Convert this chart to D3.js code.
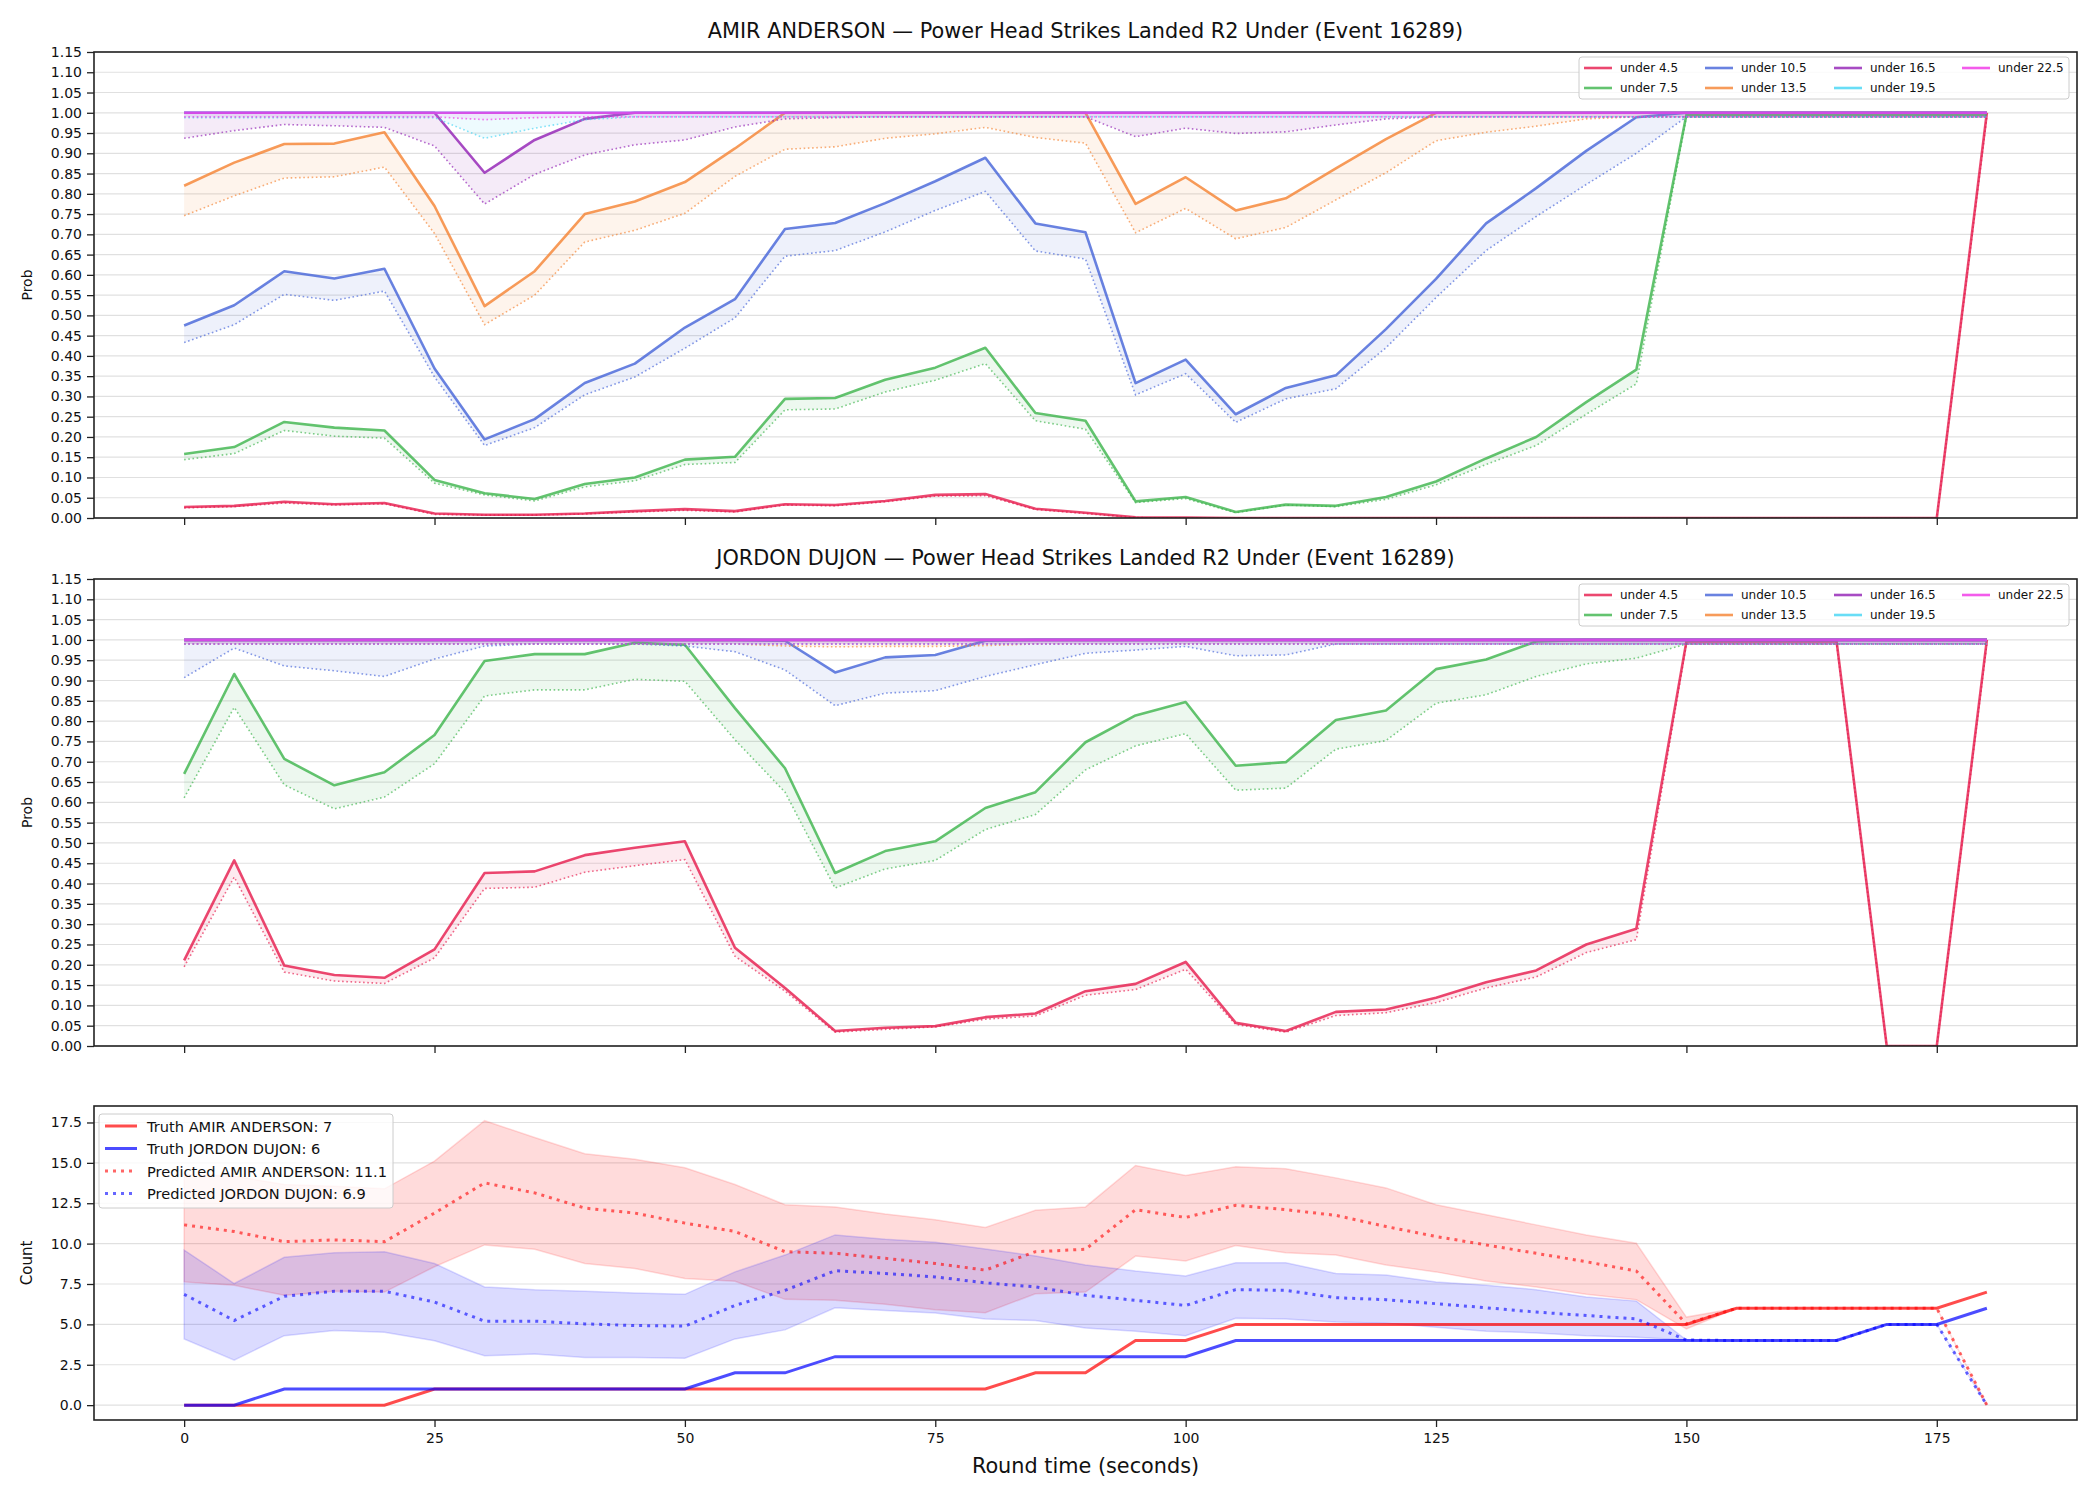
<!DOCTYPE html>
<html>
<head>
<meta charset="utf-8">
<script src="https://d3js.org/d3.v7.min.js"></script>
<style>
  body { margin: 0; background: #fff; }
  svg text { font-family: "DejaVu Sans", sans-serif; fill: #111; }
</style>
</head>
<body>
<div id="chart"></div>
<script>
// round time in seconds
var times = [0,5,10,15,20,25,30,35,40,45,50,55,60,65,70,75,80,85,90,95,100,105,110,115,120,125,130,135,140,145,150,155,160,165,170,175,180];
var timeTicks = [0,25,50,75,100,125,150,175];
var probTicks = [0,0.05,0.1,0.15,0.2,0.25,0.3,0.35,0.4,0.45,0.5,0.55,0.6,0.65,0.7,0.75,0.8,0.85,0.9,0.95,1,1.05,1.1,1.15];
var countTicks = [0,2.5,5,7.5,10,12.5,15,17.5];

var thresholds = ["under 4.5","under 7.5","under 10.5","under 13.5","under 16.5","under 19.5","under 22.5"];
var thresholdColors = ["#e6194b","#3cb44b","#4363d8","#f58231","#911eb4","#42d4f4","#f032e6"];

// AMIR ANDERSON - solid and dotted probability per threshold
var amirU45    = [0.027,0.030,0.040,0.034,0.037,0.011,0.008,0.008,0.011,0.017,0.022,0.017,0.034,0.032,0.042,0.057,0.059,0.023,0.013,0.002,0.001,0,0,0,0,0,0,0,0,0,0,0,0,0,0,0,1.0];
var amirU45Dot = [0.025,0.028,0.037,0.032,0.035,0.009,0.007,0.007,0.010,0.015,0.019,0.015,0.032,0.030,0.040,0.054,0.055,0.021,0.011,0.001,0,0,0,0,0,0,0,0,0,0,0,0,0,0,0,0,0.99];
var amirU75    = [0.158,0.175,0.237,0.223,0.216,0.094,0.061,0.047,0.084,0.100,0.144,0.151,0.294,0.296,0.341,0.371,0.420,0.259,0.240,0.041,0.052,0.015,0.033,0.030,0.052,0.090,0.147,0.200,0.286,0.366,0.995,0.995,0.995,0.995,0.995,0.995,0.995];
var amirU75Dot = [0.144,0.159,0.216,0.202,0.197,0.086,0.057,0.042,0.077,0.092,0.132,0.137,0.267,0.269,0.311,0.340,0.381,0.240,0.219,0.038,0.048,0.013,0.032,0.028,0.046,0.082,0.132,0.179,0.256,0.331,0.99,0.99,0.99,0.99,0.99,0.99,0.99];
var amirU105    = [0.475,0.525,0.609,0.591,0.615,0.369,0.194,0.244,0.333,0.381,0.470,0.540,0.713,0.728,0.777,0.831,0.889,0.727,0.705,0.333,0.391,0.256,0.321,0.352,0.466,0.590,0.727,0.814,0.906,0.989,1,1,1,1,1,1,1];
var amirU105Dot = [0.433,0.477,0.552,0.537,0.560,0.348,0.179,0.223,0.304,0.348,0.419,0.494,0.646,0.660,0.706,0.759,0.806,0.659,0.639,0.304,0.356,0.236,0.294,0.319,0.420,0.544,0.660,0.744,0.823,0.900,0.99,0.99,0.99,0.99,0.99,0.99,0.99];
var amirU135    = [0.820,0.877,0.923,0.924,0.952,0.770,0.523,0.609,0.750,0.781,0.829,0.912,1,1,1,1,1,1,1,0.775,0.841,0.759,0.789,0.863,0.935,1,1,1,1,1,1,1,1,1,1,1,1];
var amirU135Dot = [0.746,0.795,0.839,0.842,0.866,0.702,0.477,0.550,0.681,0.710,0.752,0.843,0.910,0.916,0.937,0.948,0.964,0.939,0.925,0.704,0.764,0.689,0.717,0.785,0.852,0.931,0.952,0.967,0.985,0.99,0.99,0.99,0.99,0.99,0.99,0.99,0.99];
var amirU165    = [1,1,1,1,1,1,0.852,0.933,0.985,1,1,1,1,1,1,1,1,1,1,1,1,1,1,1,1,1,1,1,1,1,1,1,1,1,1,1,1];
var amirU165Dot = [0.937,0.956,0.971,0.968,0.964,0.918,0.775,0.848,0.896,0.921,0.933,0.965,0.985,0.988,0.99,0.99,0.99,0.99,0.99,0.941,0.962,0.949,0.953,0.970,0.985,0.99,0.99,0.99,0.99,0.99,0.99,0.99,0.99,0.99,0.99,0.99,0.99];
var amirU195    = [1,1,1,1,1,1,1,1,1,1,1,1,1,1,1,1,1,1,1,1,1,1,1,1,1,1,1,1,1,1,1,1,1,1,1,1,1];
var amirU195Dot = [0.988,0.988,0.988,0.988,0.988,0.988,0.937,0.962,0.983,0.99,0.99,0.99,0.99,0.99,0.99,0.99,0.99,0.99,0.99,0.99,0.99,0.99,0.99,0.99,0.99,0.99,0.99,0.99,0.99,0.99,0.99,0.99,0.99,0.99,0.99,0.99,0.99];
var amirU225    = [1,1,1,1,1,1,1,1,1,1,1,1,1,1,1,1,1,1,1,1,1,1,1,1,1,1,1,1,1,1,1,1,1,1,1,1,1];
var amirU225Dot = [0.99,0.99,0.99,0.99,0.99,0.99,0.983,0.988,0.99,0.99,0.99,0.99,0.99,0.99,0.99,0.99,0.99,0.99,0.99,0.99,0.99,0.99,0.99,0.99,0.99,0.99,0.99,0.99,0.99,0.99,0.99,0.99,0.99,0.99,0.99,0.99,0.99];

// JORDON DUJON
var jordU45    = [0.211,0.457,0.198,0.175,0.168,0.238,0.426,0.430,0.470,0.488,0.504,0.242,0.143,0.037,0.045,0.049,0.071,0.080,0.135,0.153,0.207,0.057,0.037,0.084,0.090,0.119,0.157,0.186,0.250,0.289,0.996,0.996,0.996,0.996,0,0,1.0];
var jordU45Dot = [0.195,0.416,0.182,0.160,0.154,0.217,0.388,0.391,0.428,0.444,0.459,0.221,0.135,0.034,0.041,0.047,0.066,0.074,0.125,0.139,0.189,0.053,0.034,0.075,0.082,0.107,0.143,0.170,0.230,0.262,0.99,0.99,0.99,0.99,0,0,0.99];
var jordU75    = [0.670,0.916,0.707,0.642,0.674,0.766,0.948,0.965,0.965,0.993,0.988,0.832,0.684,0.426,0.480,0.504,0.586,0.625,0.748,0.814,0.847,0.690,0.699,0.803,0.826,0.928,0.952,0.996,1,1,1,1,1,1,1,1,1];
var jordU75Dot = [0.611,0.834,0.643,0.584,0.613,0.695,0.862,0.877,0.877,0.903,0.898,0.754,0.625,0.389,0.436,0.457,0.533,0.570,0.680,0.739,0.769,0.630,0.635,0.731,0.752,0.844,0.865,0.910,0.941,0.955,0.99,0.99,0.99,0.99,0.99,0.99,0.99];
var jordU105    = [1,1,1,1,1,1,1,1,1,1,1,1,0.998,0.920,0.957,0.963,0.998,1,1,1,1,1,1,1,1,1,1,1,1,1,1,1,1,1,1,1,1];
var jordU105Dot = [0.907,0.980,0.936,0.924,0.910,0.953,0.985,0.99,0.99,0.99,0.985,0.971,0.926,0.838,0.869,0.875,0.910,0.939,0.967,0.975,0.984,0.961,0.963,0.99,0.99,0.99,0.99,0.99,0.99,0.99,0.99,0.99,0.99,0.99,0.99,0.99,0.99];
var jordU135    = [1,1,1,1,1,1,1,1,1,1,1,1,1,1,1,1,1,1,1,1,1,1,1,1,1,1,1,1,1,1,1,1,1,1,1,1,1];
var jordU135Dot = [0.99,0.99,0.99,0.99,0.99,0.99,0.99,0.99,0.99,0.99,0.99,0.99,0.985,0.983,0.984,0.984,0.986,0.99,0.99,0.99,0.99,0.99,0.99,0.99,0.99,0.99,0.99,0.99,0.99,0.99,0.99,0.99,0.99,0.99,0.99,0.99,0.99];
var jordU165    = [1,1,1,1,1,1,1,1,1,1,1,1,1,1,1,1,1,1,1,1,1,1,1,1,1,1,1,1,1,1,1,1,1,1,1,1,1];
var jordU165Dot = [0.99,0.99,0.99,0.99,0.99,0.99,0.99,0.99,0.99,0.99,0.99,0.99,0.99,0.99,0.99,0.99,0.99,0.99,0.99,0.99,0.99,0.99,0.99,0.99,0.99,0.99,0.99,0.99,0.99,0.99,0.99,0.99,0.99,0.99,0.99,0.99,0.99];
var jordU195    = jordU165.slice();
var jordU195Dot = jordU165Dot.slice();
var jordU225    = jordU165.slice();
var jordU225Dot = jordU165Dot.slice();

// bottom panel: counts
var truthAmir  = [0,0,0,0,0,1,1,1,1,1,1,1,1,1,1,1,1,2,2,4,4,5,5,5,5,5,5,5,5,5,5,6,6,6,6,6,7];
var truthJord  = [0,0,1,1,1,1,1,1,1,1,1,2,2,3,3,3,3,3,3,3,3,4,4,4,4,4,4,4,4,4,4,4,4,4,5,5,6];
var predAmir   = [11.16,10.75,10.12,10.23,10.12,11.89,13.76,13.14,12.20,11.89,11.27,10.75,9.50,9.40,9.09,8.77,8.36,9.50,9.65,12.10,11.62,12.37,12.10,11.75,11.06,10.44,9.92,9.40,8.88,8.30,5.03,6,6,6,6,6,0];
var predJord   = [6.86,5.24,6.74,7.05,7.05,6.38,5.20,5.20,5.03,4.93,4.89,6.17,7.11,8.32,8.15,7.94,7.57,7.32,6.80,6.49,6.17,7.15,7.11,6.65,6.53,6.28,6.03,5.76,5.55,5.34,4.03,4,4,4,5,5,0];
var amirHi = [14.28,14.18,13.66,13.55,13.39,15.11,17.61,16.57,15.57,15.22,14.70,13.66,12.41,12.27,11.83,11.48,11.00,12.06,12.27,14.84,14.22,14.76,14.64,14.07,13.45,12.41,11.79,11.16,10.54,10.02,5.45,6,6,6,6,6,0];
var amirLo = [7.63,7.42,6.80,7.05,7.00,8.57,9.92,9.65,8.77,8.46,7.84,7.67,6.55,6.49,6.24,5.90,5.72,6.90,7.00,9.23,8.92,9.88,9.44,9.29,8.67,8.25,7.69,7.32,6.86,6.53,4.72,6,6,6,6,6,0];
var jordHi = [9.60,7.53,9.15,9.44,9.50,8.77,7.32,7.15,7.05,6.94,6.86,8.25,9.29,10.54,10.27,10.08,9.67,9.23,8.67,8.30,8.00,8.81,8.81,8.15,8.05,7.63,7.42,7.15,6.69,6.44,4.03,4,4,4,5,5,0];
var jordLo = [4.10,2.79,4.30,4.62,4.51,3.99,3.06,3.16,2.95,2.95,2.91,4.10,4.66,6.03,5.86,5.70,5.34,5.24,4.78,4.57,4.30,5.38,5.34,5.14,5.07,4.82,4.57,4.47,4.30,4.20,4.03,4,4,4,5,5,0];

var width = 2100, height = 1500;
var left = 94, right = 2077;

var svg = d3.select("#chart").append("svg")
  .attr("width", width)
  .attr("height", height);

var x = d3.scaleLinear().domain([-9, 189]).range([left, right]);

// style a d3 axis group like matplotlib
function styleAxis(g) {
  g.select(".domain").remove();
  g.selectAll(".tick line").attr("stroke", "#222").attr("stroke-width", 1.3);
  g.selectAll(".tick text").attr("font-size", 14).attr("fill", "#111")
    .style("font-family", "DejaVu Sans, sans-serif");
}

function drawProbPanel(top, bottom, title, solids, dots) {
  var y = d3.scaleLinear().domain([0, 1.15]).range([bottom, top]);
  var g = svg.append("g");

  // horizontal grid
  g.selectAll("line.grid").data(probTicks).enter().append("line")
    .attr("x1", left).attr("x2", right)
    .attr("y1", function(d) { return y(d); })
    .attr("y2", function(d) { return y(d); })
    .attr("stroke", "#000").attr("stroke-opacity", 0.12).attr("stroke-width", 1.2);

  var clipId = "clip" + Math.round(top);
  svg.append("clipPath").attr("id", clipId).append("rect")
    .attr("x", left).attr("y", top).attr("width", right - left).attr("height", bottom - top);
  var plot = g.append("g").attr("clip-path", "url(#" + clipId + ")");

  thresholds.forEach(function(name, i) {
    var col = thresholdColors[i];
    var area = d3.area()
      .x(function(d, j) { return x(times[j]); })
      .y0(function(d, j) { return y(dots[i][j]); })
      .y1(function(d) { return y(d); });
    var line = d3.line().x(function(d, j) { return x(times[j]); }).y(function(d) { return y(d); });

    plot.append("path").datum(solids[i])
      .attr("d", area)
      .attr("fill", col).attr("fill-opacity", 0.09);
    plot.append("path").datum(solids[i])
      .attr("d", line)
      .attr("fill", "none").attr("stroke", col)
      .attr("stroke-width", 2.6).attr("stroke-opacity", 0.8)
      .attr("stroke-linejoin", "round");
    plot.append("path").datum(dots[i])
      .attr("d", line)
      .attr("fill", "none").attr("stroke", col)
      .attr("stroke-width", 1.6).attr("stroke-opacity", 0.65)
      .attr("stroke-dasharray", "1.6,2.6");
  });

  // axes
  g.append("g").attr("transform", "translate(" + left + ",0)")
    .call(d3.axisLeft(y).tickValues(probTicks).tickFormat(d3.format(".2f")).tickSize(7).tickPadding(5))
    .call(styleAxis);
  g.append("g").attr("transform", "translate(0," + bottom + ")")
    .call(d3.axisBottom(x).tickValues(timeTicks).tickFormat("").tickSize(7))
    .call(styleAxis);

  g.append("rect")
    .attr("x", left).attr("y", top).attr("width", right - left).attr("height", bottom - top)
    .attr("fill", "none").attr("stroke", "#222").attr("stroke-width", 1.6);

  g.append("text")
    .attr("x", (left + right) / 2).attr("y", top - 14)
    .attr("text-anchor", "middle").attr("font-size", 20.8)
    .text(title);

  g.append("text")
    .attr("transform", "translate(28," + ((top + bottom) / 2) + ") rotate(-90)")
    .attr("text-anchor", "middle").attr("dominant-baseline", "middle")
    .attr("font-size", 14)
    .text("Prob");

  // legend, 4 columns filled column-wise
  var lg = g.append("g").attr("transform", "translate(1579," + (top + 5) + ")");
  lg.append("rect")
    .attr("width", 490).attr("height", 42).attr("rx", 3)
    .attr("fill", "#fff").attr("fill-opacity", 0.8)
    .attr("stroke", "#ccc").attr("stroke-width", 1);
  var colX = [5, 126, 255, 383];
  thresholds.forEach(function(name, i) {
    var cx = colX[Math.floor(i / 2)];
    var cy = i % 2 === 0 ? 11 : 31;
    lg.append("line")
      .attr("x1", cx).attr("x2", cx + 28).attr("y1", cy).attr("y2", cy)
      .attr("stroke", thresholdColors[i]).attr("stroke-width", 2.6).attr("stroke-opacity", 0.8);
    lg.append("text")
      .attr("x", cx + 36).attr("y", cy)
      .attr("dominant-baseline", "central")
      .attr("font-size", 12)
      .text(name);
  });
}

drawProbPanel(52, 518, "AMIR ANDERSON \u2014 Power Head Strikes Landed R2 Under (Event 16289)",
  [amirU45, amirU75, amirU105, amirU135, amirU165, amirU195, amirU225],
  [amirU45Dot, amirU75Dot, amirU105Dot, amirU135Dot, amirU165Dot, amirU195Dot, amirU225Dot]);

drawProbPanel(579, 1046, "JORDON DUJON \u2014 Power Head Strikes Landed R2 Under (Event 16289)",
  [jordU45, jordU75, jordU105, jordU135, jordU165, jordU195, jordU225],
  [jordU45Dot, jordU75Dot, jordU105Dot, jordU135Dot, jordU165Dot, jordU195Dot, jordU225Dot]);

// ---- count panel ----
var cTop = 1106, cBottom = 1420;
var yc = d3.scaleLinear().domain([-0.92, 18.52]).range([cBottom, cTop]);
var cg = svg.append("g");

cg.selectAll("line.grid").data(countTicks).enter().append("line")
  .attr("x1", left).attr("x2", right)
  .attr("y1", function(d) { return yc(d); })
  .attr("y2", function(d) { return yc(d); })
  .attr("stroke", "#000").attr("stroke-opacity", 0.12).attr("stroke-width", 1.2);

var band = function(lo, hi) {
  return d3.area()
    .x(function(d, j) { return x(times[j]); })
    .y0(function(d, j) { return yc(lo[j]); })
    .y1(function(d, j) { return yc(hi[j]); });
};
var cline = d3.line().x(function(d, j) { return x(times[j]); }).y(function(d) { return yc(d); });

cg.append("path").datum(times).attr("d", band(amirLo, amirHi))
  .attr("fill", "red").attr("fill-opacity", 0.14)
  .attr("stroke", "red").attr("stroke-opacity", 0.14).attr("stroke-width", 1.5);
cg.append("path").datum(times).attr("d", band(jordLo, jordHi))
  .attr("fill", "blue").attr("fill-opacity", 0.14)
  .attr("stroke", "blue").attr("stroke-opacity", 0.14).attr("stroke-width", 1.5);

cg.append("path").datum(truthAmir).attr("d", cline)
  .attr("fill", "none").attr("stroke", "red").attr("stroke-opacity", 0.7).attr("stroke-width", 3);
cg.append("path").datum(truthJord).attr("d", cline)
  .attr("fill", "none").attr("stroke", "blue").attr("stroke-opacity", 0.7).attr("stroke-width", 3);
cg.append("path").datum(predAmir).attr("d", cline)
  .attr("fill", "none").attr("stroke", "red").attr("stroke-opacity", 0.6).attr("stroke-width", 3)
  .attr("stroke-dasharray", "3,5");
cg.append("path").datum(predJord).attr("d", cline)
  .attr("fill", "none").attr("stroke", "blue").attr("stroke-opacity", 0.6).attr("stroke-width", 3)
  .attr("stroke-dasharray", "3,5");

cg.append("g").attr("transform", "translate(" + left + ",0)")
  .call(d3.axisLeft(yc).tickValues(countTicks).tickFormat(d3.format(".1f")).tickSize(7).tickPadding(5))
  .call(styleAxis);
cg.append("g").attr("transform", "translate(0," + cBottom + ")")
  .call(d3.axisBottom(x).tickValues(timeTicks).tickFormat(d3.format("d")).tickSize(7).tickPadding(6))
  .call(styleAxis);

cg.append("rect")
  .attr("x", left).attr("y", cTop).attr("width", right - left).attr("height", cBottom - cTop)
  .attr("fill", "none").attr("stroke", "#222").attr("stroke-width", 1.6);

cg.append("text")
  .attr("transform", "translate(27," + ((cTop + cBottom) / 2) + ") rotate(-90)")
  .attr("text-anchor", "middle").attr("dominant-baseline", "middle")
  .attr("font-size", 15)
  .text("Count");

cg.append("text")
  .attr("x", (left + right) / 2).attr("y", 1473)
  .attr("text-anchor", "middle").attr("font-size", 20.8)
  .text("Round time (seconds)");

// count legend
var legendItems = [
  { label: "Truth AMIR ANDERSON: 7", color: "red", dash: null },
  { label: "Truth JORDON DUJON: 6", color: "blue", dash: null },
  { label: "Predicted AMIR ANDERSON: 11.1", color: "red", dash: "3,5" },
  { label: "Predicted JORDON DUJON: 6.9", color: "blue", dash: "3,5" }
];
var cl = cg.append("g").attr("transform", "translate(99,1114)");
cl.append("rect")
  .attr("width", 294).attr("height", 94).attr("rx", 3)
  .attr("fill", "#fff").attr("fill-opacity", 0.8)
  .attr("stroke", "#ccc").attr("stroke-width", 1);
legendItems.forEach(function(d, i) {
  var cy = 12 + i * 22.5;
  cl.append("line")
    .attr("x1", 6).attr("x2", 38).attr("y1", cy).attr("y2", cy)
    .attr("stroke", d.color).attr("stroke-width", 3)
    .attr("stroke-opacity", d.dash ? 0.6 : 0.7)
    .attr("stroke-dasharray", d.dash);
  cl.append("text")
    .attr("x", 48).attr("y", cy)
    .attr("dominant-baseline", "central")
    .attr("font-size", 14.6)
    .text(d.label);
});
</script>
</body>
</html>
